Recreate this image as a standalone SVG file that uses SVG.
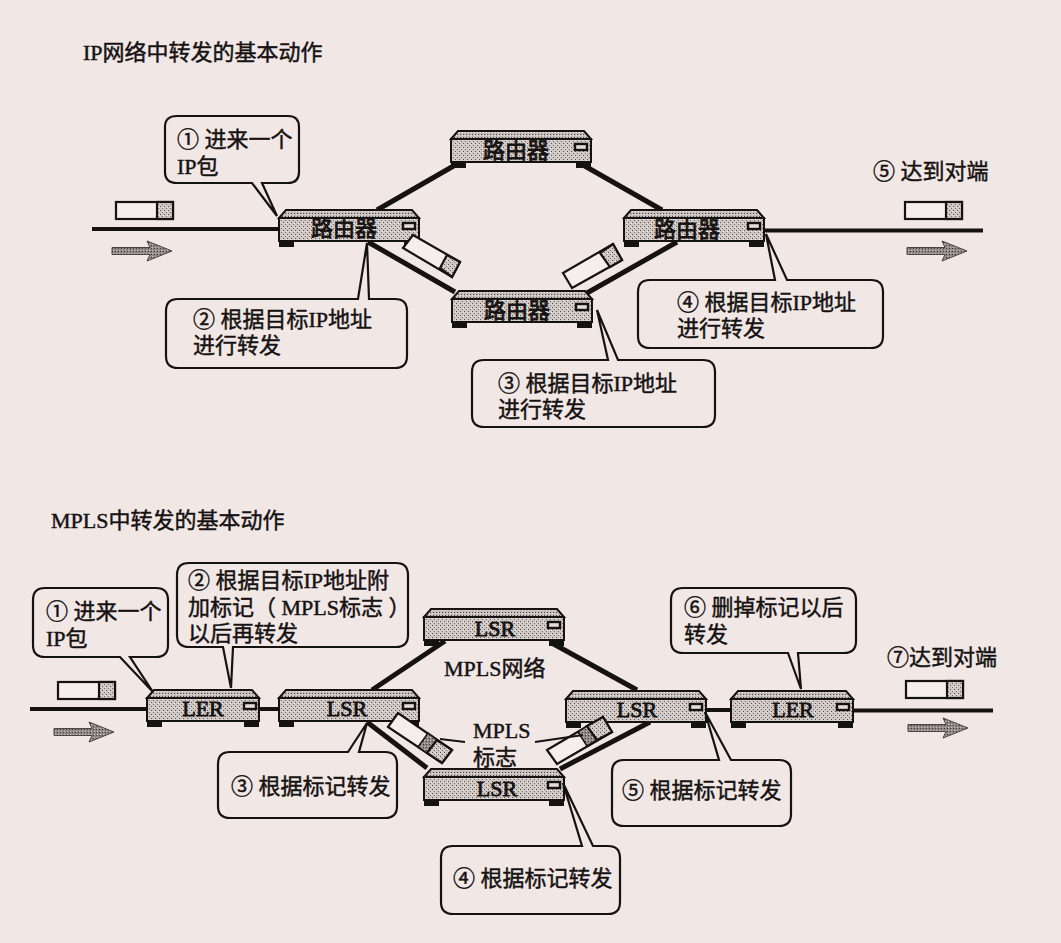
<svg xmlns="http://www.w3.org/2000/svg" width="1061" height="943" viewBox="0 0 1061 943">
<style>
text{font-family:"Liberation Serif","Noto Sans CJK SC",serif;font-size:22px;fill:#151212;stroke:#151212;stroke-width:.45}
.c{text-anchor:middle;stroke-width:.8}
.box{fill:#f1e7e5;stroke:#151212;stroke-width:2.2}
.wire{stroke:#151212;stroke-width:4;fill:none}
.link{stroke:#151212;stroke-width:5;fill:none}
.thin{stroke:#151212;stroke-width:1.8;fill:none}
.body{fill:url(#dots);stroke:#151212;stroke-width:2}
.top{fill:url(#dots2);stroke:#151212;stroke-width:2}
.foot{fill:#151212}
.led{fill:#e4dcd8;stroke:#151212;stroke-width:2.4}
.pk{fill:#f6eeec;stroke:#151212;stroke-width:2.2}
.pg{fill:url(#dots);stroke:#151212;stroke-width:2.2}
.lb{fill:url(#dots3);stroke:#151212;stroke-width:1.5}
.arr{fill:url(#dots3);stroke:#4a4543;stroke-width:1}
</style>
<defs>
<pattern id="dots" width="4" height="4" patternUnits="userSpaceOnUse"><rect width="4" height="4" fill="#cfc8c5"/><rect width="1" height="1" fill="#5c5654"/><rect x="2" y="2" width="1" height="1" fill="#726c6a"/><rect x="3" y="1" width="1" height="1" fill="#efe7e4"/></pattern>
<pattern id="dots2" width="3" height="3" patternUnits="userSpaceOnUse"><rect width="3" height="3" fill="#c4bdba"/><rect width="1" height="1" fill="#4a4543"/><rect x="2" y="1" width="1" height="1" fill="#ece4e1"/></pattern>
<pattern id="dots3" width="3" height="3" patternUnits="userSpaceOnUse"><rect width="3" height="3" fill="#8f8886"/><rect width="1" height="1" fill="#3f3a38"/><rect x="1" y="2" width="1" height="1" fill="#c9c1be"/></pattern>
<g id="r140">
<path class="foot" d="M0 31H15V37H0ZM125 31H140V37H125Z"/>
<path class="body" d="M0 8H140V31H0Z"/>
<path class="top" d="M0 8L7 0H133L140 8Z"/>
<rect class="led" x="124" y="13" width="12" height="6"/>
</g>
<g id="r112">
<path class="foot" d="M0 31H15V37H0ZM97 31H112V37H97Z"/>
<path class="body" d="M0 8H112V31H0Z"/>
<path class="top" d="M0 8L7 0H105L112 8Z"/>
<rect class="led" x="97" y="13" width="12" height="6"/>
</g>
<g id="r122">
<path class="foot" d="M0 31H15V37H0ZM107 31H122V37H107Z"/>
<path class="body" d="M0 8H122V31H0Z"/>
<path class="top" d="M0 8L7 0H115L122 8Z"/>
<rect class="led" x="106" y="13" width="12" height="6"/>
</g>
<path id="fat" d="M0 -3.5H38L35 -10L60 0L35 10L38 3.5H0Z"/>
<g id="packet"><rect class="pk" x="0" y="0" width="57" height="17"/><rect class="pg" x="41" y="0" width="16" height="17"/></g>
</defs>
<rect width="1061" height="943" fill="#f1e7e5"/>

<g id="connectors">
<path class="wire" d="M92 229H279M765 230.500H983"/>
<path class="link" d="M377 210L457 164M583 165L662 210M368 242L455 292M587 293L677 242"/>
<path class="wire" d="M30 709H147M259 709H279M707 710H731M853 710.500H993"/>
<path class="link" d="M372 690L445 641M550 642L637 690M367 722L427 768M560 769L650 722"/>
</g>

<g id="title-ip"><text x="83" y="60">IP网络中转发的基本动作</text></g>
<g id="title-mpls"><text x="51" y="528">MPLS中转发的基本动作</text></g>

<g id="r1"><use href="#r140" x="279" y="210"/><text class="c" x="344" y="236">路由器</text></g>
<g id="r2"><use href="#r140" x="451" y="131"/><text class="c" x="516" y="158">路由器</text></g>
<g id="r3"><use href="#r140" x="452" y="291"/><text class="c" x="517" y="318">路由器</text></g>
<g id="r4"><use href="#r140" x="624" y="210"/><text class="c" x="687" y="237">路由器</text></g>

<g id="ler1"><use href="#r112" x="147" y="690"/><text class="c" x="203" y="716">LER</text></g>
<g id="lsr1"><use href="#r140" x="279" y="690"/><text class="c" x="347" y="716">LSR</text></g>
<g id="lsr2"><use href="#r140" x="424" y="609"/><text class="c" x="495" y="636">LSR</text></g>
<g id="lsr3"><use href="#r140" x="424" y="769"/><text class="c" x="497" y="796">LSR</text></g>
<g id="lsr4"><use href="#r140" x="566" y="691"/><text class="c" x="637" y="717">LSR</text></g>
<g id="ler2"><use href="#r122" x="731" y="691"/><text class="c" x="793" y="717">LER</text></g>

<g id="packets">
<use href="#packet" x="116" y="202"/>
<use href="#packet" x="905" y="202"/>
<use href="#packet" x="58" y="682"/>
<use href="#packet" x="906" y="681"/>
<polygon class="pk" points="403,248 413,235 460,262 452,277"/>
<polygon class="pg" points="440,268 447,255 460,262 452,277"/>
<polygon class="pk" points="563,273 613,244 622,260 572,288"/>
<polygon class="pg" points="600,253 613,244 622,260 610,267"/>
<polygon class="pk" points="388,727 398,713 452,750 442,763"/>
<polygon class="lb" points="418,747 428,733 437,740 427,753"/>
<polygon class="pg" points="427,753 437,740 452,750 442,763"/>
<polygon class="pk" points="547,750 603,717 612,732 557,764"/>
<polygon class="lb" points="578,732 587,726 597,740 587,746"/>
<polygon class="pg" points="587,726 603,717 612,732 597,740"/>
</g>
<g id="pointers"><path class="thin" d="M465 742L440 739M535 742L583 735"/></g>

<g id="arrows">
<use href="#fat" x="112" y="251" class="arr"/>
<use href="#fat" x="907" y="251" class="arr"/>
<use href="#fat" x="54" y="732" class="arr"/>
<use href="#fat" x="908" y="728" class="arr"/>
</g>

<g id="c1"><path class="box" d="M177 116H288Q299 116 299 127V172Q299 183 288 183H262L277 216L252 183H177Q165 183 165 172V127Q165 116 177 116Z"/><text x="177" y="147">① 进来一个</text><text x="177" y="174">IP包</text></g>
<g id="c2"><path class="box" d="M178 299H358L367 243L369 299H395Q407 299 407 311V356Q407 368 395 368H178Q166 368 166 356V311Q166 299 178 299Z"/><text x="193" y="327">② 根据目标IP地址</text><text x="193" y="353">进行转发</text></g>
<g id="c3"><path class="box" d="M484 360H608L597 310L618 360H703Q715 360 715 372V415Q715 427 703 427H484Q472 427 472 415V372Q472 360 484 360Z"/><text x="498" y="391">③ 根据目标IP地址</text><text x="498" y="417">进行转发</text></g>
<g id="c4"><path class="box" d="M650 280H775L766 234L787 280H871Q883 280 883 292V336Q883 348 871 348H650Q638 348 638 336V292Q638 280 650 280Z"/><text x="677" y="310">④ 根据目标IP地址</text><text x="677" y="336">进行转发</text></g>
<g id="c5t"><text x="873" y="179">⑤ 达到对端</text></g>

<g id="m1"><path class="box" d="M45 588H156Q168 588 168 600V645Q168 657 156 657H130L153 692L120 657H45Q33 657 33 645V600Q33 588 45 588Z"/><text x="46" y="619">① 进来一个</text><text x="46" y="646">IP包</text></g>
<g id="m2"><path class="box" d="M189 563H396Q408 563 408 575V635Q408 647 396 647H233L231 688L223 647H189Q177 647 177 635V575Q177 563 189 563Z"/><text x="188" y="588">② 根据目标IP地址附</text><text x="188" y="615">加标记（ MPLS标志 ）</text><text x="188" y="641">以后再转发</text></g>
<g id="m3"><path class="box" d="M230 752H348L367 723L359 752H385Q397 752 397 764V806Q397 818 385 818H230Q218 818 218 806V764Q218 752 230 752Z"/><text x="231" y="794">③ 根据标记转发</text></g>
<g id="m4"><path class="box" d="M453 846H582L563 783L593 846H608Q620 846 620 858V902Q620 914 608 914H453Q441 914 441 902V858Q441 846 453 846Z"/><text x="453" y="886">④ 根据标记转发</text></g>
<g id="m5"><path class="box" d="M624 760H719L705 712L731 760H779Q791 760 791 772V814Q791 826 779 826H624Q612 826 612 814V772Q612 760 624 760Z"/><text x="622" y="798">⑤ 根据标记转发</text></g>
<g id="m6"><path class="box" d="M683 588H844Q856 588 856 600V641Q856 653 844 653H798L801 689L788 653H683Q671 653 671 641V600Q671 588 683 588Z"/><text x="684" y="615">⑥ 删掉标记以后</text><text x="684" y="642">转发</text></g>
<g id="m7"><text x="887" y="665">⑦达到对端</text></g>
<g id="lbl-net"><text x="444" y="676">MPLS网络</text></g>
<g id="lbl-tag"><text x="473" y="738">MPLS</text><text x="473" y="765">标志</text></g>
</svg>
